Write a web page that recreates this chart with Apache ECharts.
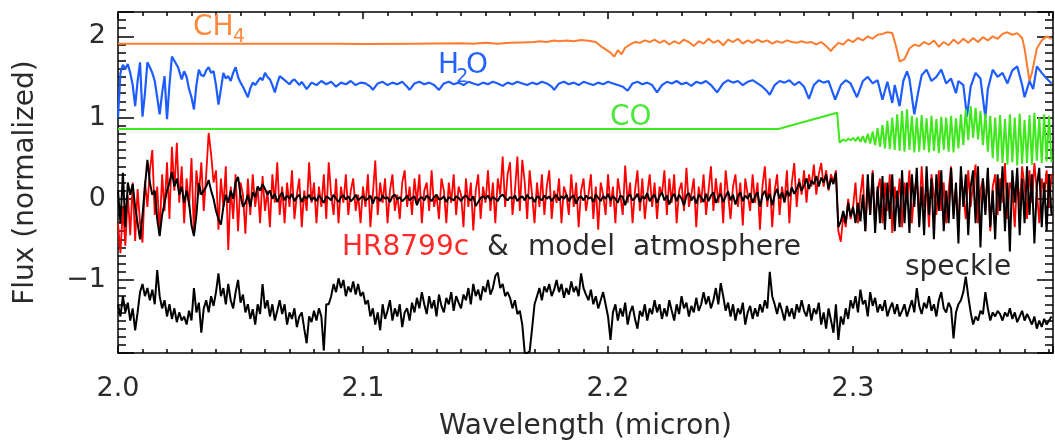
<!DOCTYPE html>
<html><head><meta charset="utf-8">
<script src="https://cdn.jsdelivr.net/npm/echarts@6/dist/echarts.min.js"></script>
<style>html,body{margin:0;padding:0;background:#fff}#c{width:1055px;height:448px}</style>
</head><body><div id="c"></div>
<script>
// ---- DATA ----
// uniform wavelength grid for the observed spectra (micron)
const wlStart = 2.000, wlStep = 0.001;

const hr8799c = [
-0.30,-0.67,-0.10,-0.58,0.05,-0.45,0.20,-0.52,0.12,-0.30,-0.54,0.22,-0.10,0.35,0.60,-0.20,0.15,-0.42,0.30,-0.15,
0.45,-0.25,0.64,0.10,0.69,-0.05,0.40,-0.30,0.25,-0.10,0.50,-0.45,0.35,0.05,0.45,-0.15,0.30,0.81,0.55,0.20,
0.35,-0.38,0.25,-0.10,0.40,-0.63,0.15,-0.25,0.30,-0.40,0.20,0.05,-0.43,0.25,-0.20,0.30,-0.10,0.15,-0.30,0.28,
-0.15,0.10,-0.35,0.30,-0.05,0.45,-0.20,0.15,-0.30,0.20,-0.10,0.35,-0.25,0.05,0.25,-0.35,0.10,-0.15,0.45,-0.05,
0.20,-0.30,0.15,-0.10,0.30,-0.25,0.45,0.05,-0.20,0.25,-0.30,0.15,-0.05,0.30,-0.20,0.10,0.25,-0.15,0.05,-0.30,
0.15,-0.10,0.30,-0.35,0.05,0.47,-0.20,0.20,-0.05,0.25,-0.30,0.10,0.30,-0.15,0.05,-0.25,0.20,0.35,-0.10,0.15,
-0.20,0.25,-0.05,0.30,-0.30,0.10,0.20,-0.15,0.35,-0.10,0.05,-0.25,0.25,0.10,-0.30,0.20,-0.05,0.30,-0.20,0.15,
0.05,-0.35,0.25,-0.10,0.20,-0.39,0.10,0.30,-0.25,0.15,-0.05,0.35,-0.15,0.20,-0.30,0.25,0.05,0.52,-0.10,0.30,
0.45,-0.20,0.10,0.52,-0.15,0.48,0.20,-0.25,0.35,0.05,-0.30,0.20,-0.10,0.30,-0.20,0.15,0.35,-0.25,0.10,-0.05,
0.25,-0.30,0.15,0.05,-0.20,0.30,-0.10,0.20,-0.35,0.10,0.25,-0.15,0.05,0.30,-0.25,0.15,-0.38,0.20,0.05,-0.20,
0.30,-0.10,0.15,-0.30,0.25,0.05,-0.20,0.41,-0.05,0.20,-0.30,0.10,0.35,-0.15,0.25,-0.25,0.05,0.30,-0.10,0.20,
-0.25,0.15,0.05,0.35,-0.20,0.25,-0.05,0.30,-0.30,0.10,0.20,-0.15,0.38,-0.10,0.05,0.25,-0.35,0.15,-0.05,0.30,
-0.20,0.10,0.40,-0.15,0.25,-0.05,0.20,-0.30,0.35,0.05,-0.25,0.15,0.30,-0.10,0.20,-0.33,0.25,0.05,-0.15,0.30,
-0.05,0.20,-0.38,0.15,0.40,-0.10,0.25,-0.35,0.10,0.30,-0.20,0.15,-0.05,0.35,-0.30,0.20,0.44,-0.10,0.25,0.05,
0.35,-0.05,0.30,0.15,0.42,0.05,0.30,0.44,0.15,0.35,0.10,0.30,0.20,0.35,-0.40,-0.53,-0.20,-0.35,0.00,-0.25,
-0.10,0.20,-0.30,0.05,0.30,-0.40,0.15,-0.20,0.35,-0.35,0.10,0.25,-0.30,0.20,-0.15,0.30,-0.42,0.15,-0.10,0.25,
-0.35,0.20,-0.05,0.35,-0.30,0.10,0.25,-0.25,0.40,-0.10,0.15,-0.35,0.30,0.05,-0.20,0.35,-0.15,0.20,-0.30,0.10,
0.40,-0.20,0.15,-0.35,0.30,0.05,-0.25,0.35,-0.10,0.20,0.42,-0.30,0.10,0.25,-0.15,0.35,-0.40,0.15,0.30,-0.20,
0.25,-0.05,0.44,-0.25,0.20,0.10,-0.35,0.30,-0.10,0.40,0.15,-0.25,0.35,-0.05,0.44,0.10,-0.30,0.25,0.05,0.35,
-0.10,0.30];

const modelAtm = [
0.10,-0.30,0.32,-0.35,0.20,0.05,0.18,-0.10,-0.30,-0.50,-0.20,0.15,0.48,0.20,0.05,0.10,-0.25,-0.46,-0.20,-0.05,
0.10,0.20,0.33,0.15,0.25,0.05,0.15,-0.05,0.10,-0.05,-0.33,-0.46,-0.20,0.19,0.05,0.10,0.15,0.23,0.10,0.00,
-0.15,-0.25,-0.32,-0.10,0.05,-0.05,0.10,0.00,0.20,0.27,0.05,-0.10,-0.05,0.05,-0.10,0.08,0.02,0.15,0.10,0.18,
0.12,0.05,0.10,0.00,0.06,-0.04,0.03,0.08,-0.02,0.04,0.00,0.06,-0.03,0.02,0.05,-0.04,0.03,0.00,0.05,-0.02,
0.02,-0.03,0.04,0.00,-0.05,0.03,0.01,-0.02,0.05,0.00,-0.04,0.02,0.04,-0.01,0.03,-0.03,0.00,0.05,-0.02,0.01,
0.03,-0.02,0.00,0.04,-0.06,0.02,0.01,-0.03,0.04,0.00,0.02,-0.04,0.03,0.05,-0.01,0.02,-0.03,0.00,0.04,-0.02,
0.01,0.03,-0.08,0.00,0.02,-0.02,0.04,0.01,-0.03,0.02,0.05,-0.01,0.00,0.03,-0.04,0.02,0.00,-0.02,0.03,0.01,
-0.03,0.02,0.04,0.00,-0.02,0.03,-0.09,-0.04,0.01,0.03,0.00,0.04,-0.02,0.02,0.00,-0.03,0.03,0.05,0.01,-0.02,
0.02,0.00,0.04,-0.03,0.01,0.03,-0.02,0.05,0.00,0.02,-0.04,0.03,0.01,-0.02,0.04,0.00,0.03,-0.03,0.02,0.05,
-0.02,0.03,0.00,0.05,-0.03,0.02,0.04,-0.06,0.01,0.03,-0.02,0.04,0.00,0.02,-0.04,0.05,0.01,-0.03,0.03,0.00,
0.06,-0.02,0.03,0.00,-0.05,0.04,0.02,-0.08,0.03,0.05,-0.02,0.01,0.06,-0.04,0.03,0.00,0.07,-0.03,0.02,0.05,
-0.05,0.03,0.08,-0.02,0.04,-0.07,0.02,0.06,-0.03,0.05,0.00,-0.08,0.04,0.07,-0.02,0.03,-0.06,0.05,0.02,-0.04,
0.06,-0.03,0.04,0.08,-0.05,0.02,0.06,-0.04,0.03,0.09,-0.02,0.05,-0.07,0.03,0.08,-0.03,0.04,0.00,0.07,-0.05,
0.03,0.08,-0.10,0.04,0.10,-0.02,0.06,-0.08,0.05,0.12,0.00,0.08,-0.04,0.10,0.03,0.14,0.06,0.12,0.20,0.10,
0.16,0.25,0.12,0.22,0.18,0.28,0.15,0.26,0.20,0.30,0.12,0.25,0.18,0.32,-0.35,-0.28,-0.15,-0.30,-0.05,-0.22,
-0.10,-0.30,-0.05,-0.28,0.05,-0.40,0.30,-0.20,0.32,-0.42,0.15,-0.30,0.28,-0.38,0.20,-0.25,0.30,-0.40,0.10,-0.35,
0.35,-0.30,0.20,-0.42,0.30,-0.10,0.38,-0.35,0.15,-0.45,0.40,-0.20,0.25,-0.50,0.30,-0.15,0.35,-0.40,0.10,-0.30,
0.38,-0.25,0.20,-0.55,0.40,-0.10,0.30,-0.45,0.15,0.35,-0.30,0.40,-0.60,0.25,-0.20,0.38,-0.35,0.10,-0.50,0.30,
-0.15,0.40,-0.40,0.20,-0.65,0.35,-0.05,0.38,-0.45,0.25,-0.30,0.40,-0.20,0.30,-0.55,0.15,0.38,-0.35,0.20,-0.40,
0.30,-0.20];

const speckle = [
-1.30,-1.45,-1.20,-1.40,-1.28,-1.50,-1.35,-1.62,-1.40,-1.15,-1.05,-1.20,-1.10,-1.25,-1.12,-1.30,-0.88,-1.20,-1.35,-1.25,
-1.45,-1.30,-1.48,-1.35,-1.52,-1.40,-1.50,-1.45,-1.55,-1.38,-1.50,-1.10,-1.40,-1.28,-1.65,-1.35,-1.25,-1.40,-1.20,-1.32,
-1.15,-0.92,-1.20,-1.10,-1.30,-1.05,-1.25,-1.35,-1.15,-1.00,-1.28,-1.18,-1.40,-1.30,-1.48,-1.36,-1.55,-1.30,-1.42,-1.05,
-1.35,-1.25,-1.45,-1.30,-1.50,-1.38,-1.25,-1.42,-1.30,-1.55,-1.40,-1.48,-1.35,-1.58,-1.45,-1.40,-1.60,-1.78,-1.45,-1.52,
-1.38,-1.50,-1.35,-1.45,-1.87,-1.30,-1.30,-1.20,-1.05,-1.15,-0.98,-1.10,-1.00,-1.20,-1.08,-1.15,-1.02,-1.18,-1.05,-1.20,
-1.15,-1.30,-1.25,-1.45,-1.35,-1.55,-1.40,-1.62,-1.30,-1.48,-1.38,-1.25,-1.50,-1.35,-1.45,-1.30,-1.58,-1.40,-1.35,-1.50,
-1.28,-1.40,-1.22,-1.35,-1.15,-1.30,-1.42,-1.20,-1.35,-1.25,-1.45,-1.18,-1.32,-1.40,-1.22,-1.30,-1.15,-1.38,-1.20,-1.28,
-1.35,-1.18,-1.25,-1.10,-1.30,-1.05,-1.20,-1.12,-1.25,-1.08,-1.15,-1.00,-1.18,-1.10,-0.95,-0.91,-1.10,-1.05,-1.20,-1.15,
-1.22,-1.35,-1.25,-1.42,-1.38,-1.55,-1.90,-1.90,-1.88,-1.60,-1.30,-1.20,-1.10,-1.25,-1.08,-1.15,-1.05,-1.20,-1.12,-1.00,
-1.15,-1.05,-1.22,-1.10,-1.18,-1.02,-1.15,-1.08,-1.20,-0.92,-1.10,-1.18,-1.25,-1.12,-1.30,-1.20,-1.35,-1.25,-1.15,-1.30,
-1.45,-1.74,-1.40,-1.30,-1.50,-1.35,-1.45,-1.28,-1.55,-1.40,-1.32,-1.48,-1.60,-1.38,-1.45,-1.30,-1.50,-1.35,-1.42,-1.25,
-1.40,-1.30,-1.48,-1.35,-1.45,-1.25,-1.38,-1.50,-1.30,-1.42,-1.20,-1.35,-1.28,-1.45,-1.32,-1.40,-1.22,-1.38,-1.30,-1.15,
-1.30,-1.20,-1.35,-1.25,-1.10,-1.30,-1.04,-1.20,-1.38,-1.28,-1.45,-1.30,-1.50,-1.35,-1.42,-1.28,-1.55,-1.40,-1.32,-1.48,
-1.35,-1.45,-1.30,-1.40,-1.25,-1.35,-0.90,-1.20,-1.30,-1.42,-1.28,-1.38,-1.50,-1.32,-1.45,-1.35,-1.48,-1.30,-1.40,-1.25,
-1.38,-1.45,-1.30,-1.50,-1.35,-1.42,-1.28,-1.55,-1.40,-1.60,-1.35,-1.50,-1.65,-1.30,-1.74,-1.45,-1.55,-1.35,-1.48,-1.25,
-1.35,-1.20,-1.40,-1.12,-1.30,-1.25,-1.45,-1.15,-1.32,-1.22,-1.40,-1.30,-1.38,-1.25,-1.45,-1.35,-1.28,-1.42,-1.30,-1.45,
-1.38,-1.30,-1.45,-1.35,-1.25,-1.40,-1.10,-1.32,-1.42,-1.28,-1.35,-1.20,-1.38,-1.30,-1.45,-1.25,-1.15,-1.35,-1.40,-1.28,
-1.35,-1.72,-1.40,-1.30,-1.25,-1.15,-0.96,-1.20,-1.40,-1.55,-1.45,-1.50,-1.38,-1.42,-1.15,-1.35,-1.50,-1.40,-1.45,-1.38,
-1.42,-1.50,-1.40,-1.45,-1.35,-1.48,-1.40,-1.52,-1.45,-1.38,-1.50,-1.42,-1.48,-1.55,-1.45,-1.60,-1.50,-1.58,-1.48,-1.55,
-1.50,-1.45];

// template spectra: [wavelength, offset flux]
const ch4 = [
[2.000,1.91],[2.090,1.91],[2.100,1.905],[2.120,1.91],[2.140,1.915],[2.145,1.91],[2.150,1.92],[2.155,1.91],[2.160,1.92],
[2.165,1.925],[2.170,1.93],[2.172,1.94],[2.175,1.93],[2.178,1.95],[2.180,1.94],[2.183,1.95],[2.186,1.94],[2.189,1.955],
[2.192,1.945],[2.195,1.93],[2.197,1.88],[2.199,1.84],[2.201,1.80],[2.2025,1.75],[2.204,1.83],[2.2055,1.78],[2.207,1.86],
[2.209,1.90],[2.211,1.93],[2.213,1.92],[2.215,1.95],[2.217,1.93],[2.219,1.96],[2.221,1.92],[2.223,1.95],[2.225,1.90],
[2.227,1.94],[2.229,1.91],[2.231,1.96],[2.233,1.93],[2.235,1.88],[2.237,1.94],[2.239,1.91],[2.241,1.97],[2.243,1.92],
[2.245,1.95],[2.247,1.89],[2.249,1.96],[2.251,1.93],[2.253,1.97],[2.255,1.91],[2.257,1.95],[2.259,1.92],[2.261,1.96],
[2.263,1.93],[2.265,1.95],[2.267,1.91],[2.269,1.94],[2.271,1.92],[2.273,1.95],[2.275,1.93],[2.277,1.92],[2.279,1.94],
[2.281,1.92],[2.283,1.93],[2.285,1.90],[2.287,1.93],[2.289,1.88],[2.291,1.82],[2.292,1.86],[2.294,1.92],[2.296,1.90],
[2.298,1.96],[2.300,1.93],[2.302,1.98],[2.304,1.95],[2.306,2.00],[2.308,1.97],[2.310,2.02],[2.312,2.03],[2.314,2.05],
[2.316,2.04],[2.3175,1.88],[2.319,1.69],[2.321,1.72],[2.323,1.85],[2.325,1.90],[2.327,1.88],[2.329,1.93],[2.331,1.90],
[2.333,1.95],[2.335,1.87],[2.337,1.93],[2.339,1.89],[2.341,1.96],[2.343,1.91],[2.345,1.97],[2.347,1.92],[2.349,1.98],
[2.351,1.93],[2.353,1.99],[2.355,1.95],[2.357,2.00],[2.359,1.97],[2.361,2.03],[2.363,2.05],[2.365,2.02],[2.367,2.04],
[2.369,1.98],[2.370,1.85],[2.371,1.65],[2.372,1.45],[2.373,1.55],[2.375,1.85],[2.377,1.95],[2.379,2.00],[2.381,1.97]];

const h2o = [
[2.000,1.00],[2.001,1.55],[2.002,1.65],[2.003,1.60],[2.004,1.66],[2.005,1.55],[2.006,1.40],[2.007,1.14],[2.008,1.45],
[2.009,1.68],[2.010,1.01],[2.011,1.30],[2.012,1.68],[2.013,1.62],[2.014,1.55],[2.015,1.45],[2.016,1.25],[2.017,1.04],
[2.018,1.30],[2.019,1.51],[2.020,0.98],[2.021,1.40],[2.022,1.75],[2.023,1.70],[2.0245,1.62],[2.026,1.47],[2.027,1.57],
[2.028,1.50],[2.029,1.35],[2.030,1.25],[2.031,1.10],[2.032,1.40],[2.033,1.59],[2.034,1.52],[2.035,1.51],[2.036,1.58],
[2.037,1.62],[2.038,1.55],[2.039,1.57],[2.040,1.40],[2.041,1.16],[2.042,1.35],[2.043,1.55],[2.044,1.48],[2.045,1.51],
[2.046,1.45],[2.047,1.55],[2.048,1.62],[2.049,1.50],[2.050,1.43],[2.051,1.38],[2.053,1.25],[2.054,1.36],[2.055,1.43],
[2.056,1.40],[2.058,1.49],[2.059,1.46],[2.060,1.55],[2.061,1.50],[2.062,1.47],[2.063,1.40],[2.064,1.31],[2.065,1.42],
[2.066,1.51],[2.068,1.46],[2.070,1.41],[2.071,1.45],[2.072,1.47],[2.074,1.40],[2.075,1.44],[2.077,1.35],[2.079,1.43],
[2.081,1.40],[2.083,1.45],[2.085,1.41],[2.087,1.44],[2.089,1.38],[2.091,1.43],[2.093,1.41],[2.095,1.45],[2.097,1.40],
[2.099,1.43],[2.101,1.42],[2.103,1.38],[2.104,1.34],[2.106,1.42],[2.108,1.44],[2.110,1.40],[2.112,1.43],[2.114,1.41],
[2.116,1.44],[2.118,1.38],[2.119,1.34],[2.121,1.42],[2.123,1.44],[2.125,1.41],[2.127,1.43],[2.129,1.40],[2.131,1.34],
[2.133,1.42],[2.135,1.44],[2.137,1.41],[2.139,1.43],[2.141,1.40],[2.143,1.44],[2.145,1.42],[2.147,1.40],[2.149,1.43],
[2.151,1.41],[2.153,1.44],[2.155,1.42],[2.157,1.39],[2.159,1.43],[2.161,1.41],[2.163,1.44],[2.165,1.42],[2.167,1.40],
[2.169,1.43],[2.171,1.41],[2.173,1.44],[2.175,1.42],[2.177,1.38],[2.178,1.34],[2.180,1.42],[2.182,1.44],[2.184,1.41],
[2.186,1.43],[2.188,1.40],[2.190,1.44],[2.192,1.42],[2.194,1.40],[2.196,1.43],[2.198,1.41],[2.200,1.44],[2.202,1.42],
[2.204,1.40],[2.206,1.38],[2.208,1.33],[2.210,1.42],[2.212,1.44],[2.214,1.41],[2.216,1.43],[2.218,1.40],[2.220,1.31],
[2.222,1.40],[2.224,1.44],[2.226,1.42],[2.228,1.45],[2.230,1.41],[2.232,1.43],[2.234,1.39],[2.236,1.44],[2.238,1.42],
[2.240,1.45],[2.242,1.40],[2.2445,1.31],[2.247,1.42],[2.249,1.46],[2.251,1.43],[2.253,1.45],[2.255,1.40],[2.257,1.44],
[2.259,1.46],[2.261,1.42],[2.263,1.38],[2.265,1.32],[2.266,1.28],[2.268,1.40],[2.270,1.45],[2.272,1.43],[2.274,1.46],
[2.276,1.40],[2.278,1.44],[2.280,1.38],[2.282,1.23],[2.284,1.40],[2.286,1.46],[2.288,1.43],[2.290,1.45],[2.2927,1.22],
[2.295,1.40],[2.297,1.46],[2.299,1.42],[2.3016,1.25],[2.304,1.45],[2.306,1.50],[2.308,1.42],[2.310,1.46],[2.312,1.22],
[2.314,1.44],[2.316,1.18],[2.317,1.40],[2.319,1.14],[2.3205,1.45],[2.322,1.57],[2.323,1.48],[2.325,1.04],[2.3265,1.30],
[2.328,1.52],[2.330,1.59],[2.332,1.45],[2.334,1.50],[2.336,1.59],[2.338,1.42],[2.340,1.48],[2.342,1.30],[2.343,1.45],
[2.345,1.40],[2.3465,1.01],[2.348,1.38],[2.350,1.55],[2.352,1.48],[2.354,1.00],[2.355,1.35],[2.357,1.59],[2.359,1.50],
[2.361,1.55],[2.363,1.42],[2.365,1.58],[2.367,1.63],[2.369,1.40],[2.370,1.25],[2.372,1.45],[2.3735,1.35],[2.375,1.63],
[2.377,1.55],[2.379,1.48],[2.381,1.42]];

const co = [
[2.000,0.86],[2.2695,0.86],[2.2935,1.06],[2.2945,0.69],[2.296,0.73],[2.297,0.71],
[2.298,0.74],[2.299,0.72],[2.300,0.75],[2.301,0.71],[2.302,0.76],[2.303,0.70],[2.304,0.77],[2.305,0.69],[2.306,0.80],
[2.307,0.68],[2.308,0.83],[2.309,0.66],[2.310,0.87],[2.311,0.64],[2.312,0.91],[2.313,0.62],[2.314,0.96],[2.315,0.61],
[2.316,1.00],[2.317,0.60],[2.318,1.04],[2.319,0.59],[2.320,1.08],[2.321,0.58],[2.322,1.10],[2.323,0.60],[2.324,1.02],
[2.325,0.57],[2.326,1.00],[2.327,0.58],[2.328,1.03],[2.329,0.60],[2.330,0.99],[2.331,0.57],[2.332,1.02],[2.333,0.59],
[2.334,0.98],[2.335,0.56],[2.336,1.01],[2.337,0.60],[2.338,1.00],[2.339,0.58],[2.340,1.02],[2.341,0.57],[2.342,0.99],
[2.343,0.62],[2.344,1.04],[2.345,0.66],[2.346,1.10],[2.347,0.72],[2.348,1.14],[2.349,0.75],[2.350,1.12],[2.351,0.73],
[2.352,1.08],[2.353,0.66],[2.354,1.05],[2.355,0.58],[2.356,1.02],[2.357,0.50],[2.358,1.00],[2.359,0.46],[2.360,1.03],
[2.361,0.44],[2.362,0.98],[2.363,0.42],[2.364,1.04],[2.365,0.45],[2.366,1.00],[2.367,0.41],[2.368,1.05],[2.369,0.43],
[2.370,0.97],[2.371,0.44],[2.372,1.03],[2.373,0.42],[2.374,1.06],[2.375,0.47],[2.376,1.00],[2.377,0.44],[2.378,1.04],
[2.379,0.46],[2.380,1.02],[2.381,0.45]];

const xTickInterval = 0.1;
const wlMin = 2.0, wlMax = 2.3816, fluxMin = -1.9, fluxMax = 2.3;

// annotation anchors in data coordinates
const annotations = [
  {text:'CH', wl:2.0306, flux:2.11, size:28, color:'#ff8a3d'},
  {text:'4', wl:2.0469, flux:1.99, size:19, color:'#ff8a3d'},
  {text:'H', wl:2.1306, flux:1.64, size:28, color:'#2563ff'},
  {text:'2', wl:2.1380, flux:1.50, size:19, color:'#2563ff'},
  {text:'O', wl:2.1420, flux:1.64, size:28, color:'#2563ff'},
  {text:'CO', wl:2.2008, flux:1.00, size:28, color:'#4be83a'},
  {text:'HR8799c', wl:2.0914, flux:-0.60, size:28, color:'#ff2a2a'},
  {text:'&', wl:2.1506, flux:-0.60, size:28, color:'#2b2b2b'},
  {text:'model', wl:2.1673, flux:-0.60, size:28, color:'#2b2b2b'},
  {text:'atmosphere', wl:2.2102, flux:-0.60, size:28, color:'#2b2b2b'},
  {text:'speckle', wl:2.3212, flux:-0.85, size:28, color:'#2b2b2b'}
];

// ---- CHART ----
const FONT = '"DejaVu Sans", sans-serif';
const onGrid = (arr) => arr.map((v, i) => [+(wlStart + i * wlStep).toFixed(4), v]);
const chart = echarts.init(document.getElementById('c'), null, {renderer: 'canvas'});
const tickStyle = {color: '#000', width: 1.5};
const axisLineStyle = {show: true, onZero: false, lineStyle: {color: '#000', width: 1.5}};
const baseX = {type: 'value', min: wlMin, max: wlMax, interval: xTickInterval, splitLine: {show: false},
  axisLine: axisLineStyle,
  axisTick: {show: true, inside: true, length: 7, lineStyle: tickStyle},
  minorTick: {show: true, splitNumber: 10, length: 4, lineStyle: tickStyle}};
const baseY = {type: 'value', min: fluxMin, max: fluxMax, splitNumber: 4, splitLine: {show: false},
  axisLine: axisLineStyle,
  axisTick: {show: true, inside: true, length: 16, lineStyle: tickStyle},
  minorTick: {show: true, splitNumber: 10, length: 8, lineStyle: tickStyle}};
const lineCommon = {type: 'line', showSymbol: false, symbol: 'none', animation: false, silent: true};

chart.setOption({
  animation: false,
  backgroundColor: '#fff',
  grid: {left: 118, right: 2, top: 12, bottom: 95, containLabel: false, outerBoundsMode: 'none'},
  xAxis: [
    Object.assign({}, baseX, {position: 'bottom',
      name: 'Wavelength (micron)', nameLocation: 'middle', nameGap: 60,
      nameTextStyle: {fontFamily: FONT, fontSize: 28, color: '#2b2b2b'},
      axisLabel: {show: true, margin: 22, fontFamily: FONT, fontSize: 27, color: '#2b2b2b',
        showMaxLabel: false, formatter: v => v.toFixed(1)}}),
    Object.assign({}, baseX, {position: 'top', axisLabel: {show: false}})
  ],
  yAxis: [
    Object.assign({}, baseY, {position: 'left',
      name: 'Flux (normalized)', nameLocation: 'middle', nameGap: 78, nameRotate: 90,
      nameTextStyle: {fontFamily: FONT, fontSize: 28, color: '#2b2b2b'},
      axisLabel: {show: true, margin: 12, fontFamily: FONT, fontSize: 27, color: '#2b2b2b',
        showMinLabel: false, showMaxLabel: false,
        formatter: v => (v < 0 ? '\u2212' + Math.abs(v) : String(v))}}),
    Object.assign({}, baseY, {position: 'right', axisLabel: {show: false}})
  ],
  series: [
    Object.assign({}, lineCommon, {name: 'CH4', data: ch4, lineStyle: {color: '#ff7b2e', width: 2}, itemStyle: {color: '#ff7b2e'}}),
    Object.assign({}, lineCommon, {name: 'H2O', data: h2o, lineStyle: {color: '#1d5cff', width: 2.2}, itemStyle: {color: '#1d5cff'}}),
    Object.assign({}, lineCommon, {name: 'CO', data: co, lineStyle: {color: '#3ee81c', width: 2}, itemStyle: {color: '#3ee81c'}}),
    Object.assign({}, lineCommon, {name: 'HR8799c', data: onGrid(hr8799c), lineStyle: {color: '#ff0000', width: 1.8}, itemStyle: {color: '#ff0000'}}),
    Object.assign({}, lineCommon, {name: 'model', data: onGrid(modelAtm), lineStyle: {color: '#000', width: 2}, itemStyle: {color: '#000'}}),
    Object.assign({}, lineCommon, {name: 'speckle', data: onGrid(speckle), lineStyle: {color: '#000', width: 2}, itemStyle: {color: '#000'}})
  ]
});

chart.setOption({
  graphic: annotations.map(a => {
    const p = chart.convertToPixel({xAxisIndex: 0, yAxisIndex: 0}, [a.wl, a.flux]);
    return {type: 'text', x: p[0], y: p[1], z: 100, silent: true,
      style: {text: a.text, fill: a.color, font: a.size + 'px ' + FONT, align: 'left', verticalAlign: 'middle'}};
  })
});
</script>
</body></html>
